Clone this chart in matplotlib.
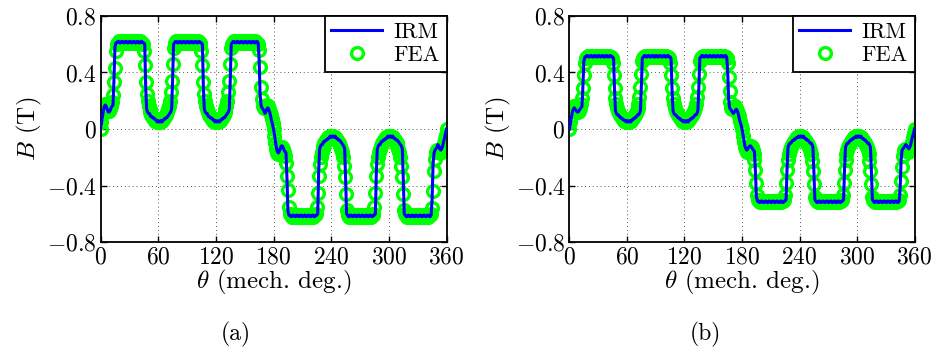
"""
Flux density waveform, IRM vs FEA, two cases (a) and (b).
"""
import numpy as np
import matplotlib
matplotlib.use("Agg")
import matplotlib.pyplot as plt

plt.rcParams['font.family'] = 'serif'
plt.rcParams['font.serif'] = ['cmr10', 'DejaVu Serif']
plt.rcParams['mathtext.fontset'] = 'cm'
plt.rcParams['axes.formatter.use_mathtext'] = True

# mechanical angle, one sample per degree
theta = list(range(0, 361))

# ---- case (a) ----
irm_a = [
    0.00, 0.04, 0.09, 0.13, 0.16, 0.17, 0.16, 0.14, 0.12, 0.12, 0.13, 0.15, 0.16, 0.17, 0.35, 0.58, 0.61,
    0.61, 0.62, 0.62, 0.61, 0.61, 0.62, 0.62, 0.61, 0.61, 0.62, 0.62, 0.61, 0.61, 0.62,
    0.62, 0.61, 0.61, 0.62, 0.62, 0.61, 0.61, 0.62, 0.62, 0.61, 0.61, 0.62, 0.62, 0.61,
    0.61, 0.60, 0.30, 0.14, 0.12, 0.11, 0.11, 0.09, 0.09, 0.08, 0.08, 0.07, 0.07, 0.06, 0.05, 0.06,
    0.05, 0.05, 0.06, 0.05, 0.06, 0.07, 0.07, 0.08, 0.08, 0.09, 0.10, 0.11, 0.12, 0.14, 0.35, 0.60,
    0.61, 0.62, 0.62, 0.61, 0.61, 0.62, 0.62, 0.61, 0.61, 0.62, 0.62, 0.61, 0.61, 0.62,
    0.62, 0.61, 0.61, 0.62, 0.62, 0.61, 0.61, 0.62, 0.62, 0.61, 0.61, 0.62, 0.62, 0.61,
    0.61, 0.60, 0.30, 0.14, 0.12, 0.11, 0.11, 0.09, 0.09, 0.08, 0.08, 0.07, 0.07, 0.06, 0.05, 0.06,
    0.05, 0.05, 0.06, 0.05, 0.06, 0.07, 0.07, 0.08, 0.08, 0.09, 0.10, 0.11, 0.12, 0.14, 0.35, 0.60,
    0.61, 0.62, 0.62, 0.61, 0.61, 0.62, 0.62, 0.61, 0.61, 0.62, 0.62, 0.61, 0.61, 0.62,
    0.62, 0.61, 0.61, 0.62, 0.62, 0.61, 0.61, 0.62, 0.62, 0.61, 0.61, 0.62, 0.62, 0.61,
    0.50, 0.25, 0.17, 0.15, 0.14, 0.13, 0.11, 0.12, 0.14, 0.15, 0.14, 0.12, 0.09, 0.06, 0.03, 0.00,
    -0.04, -0.09, -0.13, -0.16, -0.17, -0.16, -0.14, -0.12, -0.12, -0.13, -0.15, -0.16, -0.17, -0.35, -0.58, -0.61,
    -0.61, -0.62, -0.62, -0.61, -0.61, -0.62, -0.62, -0.61, -0.61, -0.62, -0.62, -0.61, -0.61, -0.62,
    -0.62, -0.61, -0.61, -0.62, -0.62, -0.61, -0.61, -0.62, -0.62, -0.61, -0.61, -0.62, -0.62, -0.61,
    -0.61, -0.60, -0.30, -0.14, -0.12, -0.11, -0.11, -0.09, -0.09, -0.08, -0.08, -0.07, -0.07, -0.06, -0.05, -0.06,
    -0.05, -0.05, -0.06, -0.05, -0.06, -0.07, -0.07, -0.08, -0.08, -0.09, -0.10, -0.11, -0.12, -0.14, -0.35, -0.60,
    -0.61, -0.62, -0.62, -0.61, -0.61, -0.62, -0.62, -0.61, -0.61, -0.62, -0.62, -0.61, -0.61, -0.62,
    -0.62, -0.61, -0.61, -0.62, -0.62, -0.61, -0.61, -0.62, -0.62, -0.61, -0.61, -0.62, -0.62, -0.61,
    -0.61, -0.60, -0.30, -0.14, -0.12, -0.11, -0.11, -0.09, -0.09, -0.08, -0.08, -0.07, -0.07, -0.06, -0.05, -0.06,
    -0.05, -0.05, -0.06, -0.05, -0.06, -0.07, -0.07, -0.08, -0.08, -0.09, -0.10, -0.11, -0.12, -0.14, -0.35, -0.60,
    -0.61, -0.62, -0.62, -0.61, -0.61, -0.62, -0.62, -0.61, -0.61, -0.62, -0.62, -0.61, -0.61, -0.62,
    -0.62, -0.61, -0.61, -0.62, -0.62, -0.61, -0.61, -0.62, -0.62, -0.61, -0.61, -0.62, -0.62, -0.61,
    -0.50, -0.25, -0.17, -0.15, -0.14, -0.13, -0.11, -0.12, -0.14, -0.15, -0.14, -0.12, -0.09, -0.06, -0.03, 0.00,
]

fea_a = [
    0.00, 0.05, 0.10, 0.14, 0.17, 0.18, 0.17, 0.15, 0.13, 0.13, 0.14, 0.16, 0.19, 0.24, 0.33, 0.43, 0.55,
    0.60, 0.61, 0.62, 0.61, 0.62, 0.61, 0.62, 0.62, 0.61, 0.62, 0.61, 0.62, 0.62, 0.61,
    0.62, 0.61, 0.62, 0.62, 0.61, 0.62, 0.61, 0.62, 0.62, 0.61, 0.62, 0.61, 0.61, 0.60,
    0.55, 0.45, 0.33, 0.25, 0.20, 0.16, 0.14, 0.12, 0.10, 0.09, 0.08, 0.07, 0.06, 0.06, 0.05, 0.05,
    0.05, 0.05, 0.06, 0.06, 0.07, 0.08, 0.09, 0.10, 0.12, 0.14, 0.16, 0.20, 0.26, 0.34, 0.46, 0.57,
    0.60, 0.61, 0.62, 0.61, 0.62, 0.61, 0.62, 0.62, 0.61, 0.62, 0.61, 0.62, 0.62, 0.61,
    0.62, 0.61, 0.62, 0.62, 0.61, 0.62, 0.61, 0.62, 0.62, 0.61, 0.62, 0.61, 0.61, 0.60,
    0.55, 0.45, 0.33, 0.25, 0.20, 0.16, 0.14, 0.12, 0.10, 0.09, 0.08, 0.07, 0.06, 0.06, 0.05, 0.05,
    0.05, 0.05, 0.06, 0.06, 0.07, 0.08, 0.09, 0.10, 0.12, 0.14, 0.16, 0.20, 0.26, 0.34, 0.46, 0.57,
    0.60, 0.61, 0.62, 0.61, 0.62, 0.61, 0.62, 0.62, 0.61, 0.62, 0.61, 0.62, 0.62, 0.61,
    0.62, 0.61, 0.62, 0.62, 0.61, 0.62, 0.61, 0.62, 0.62, 0.61, 0.62, 0.61, 0.61, 0.60,
    0.56, 0.44, 0.30, 0.21, 0.16, 0.15, 0.15, 0.16, 0.17, 0.16, 0.14, 0.12, 0.10, 0.07, 0.04, 0.00,
    -0.05, -0.10, -0.14, -0.17, -0.18, -0.17, -0.15, -0.13, -0.13, -0.14, -0.16, -0.19, -0.24, -0.33, -0.43, -0.55,
    -0.60, -0.61, -0.62, -0.61, -0.62, -0.61, -0.62, -0.62, -0.61, -0.62, -0.61, -0.62, -0.62, -0.61,
    -0.62, -0.61, -0.62, -0.62, -0.61, -0.62, -0.61, -0.62, -0.62, -0.61, -0.62, -0.61, -0.61, -0.60,
    -0.55, -0.45, -0.33, -0.25, -0.20, -0.16, -0.14, -0.12, -0.10, -0.09, -0.08, -0.07, -0.06, -0.06, -0.05, -0.05,
    -0.05, -0.05, -0.06, -0.06, -0.07, -0.08, -0.09, -0.10, -0.12, -0.14, -0.16, -0.20, -0.26, -0.34, -0.46, -0.57,
    -0.60, -0.61, -0.62, -0.61, -0.62, -0.61, -0.62, -0.62, -0.61, -0.62, -0.61, -0.62, -0.62, -0.61,
    -0.62, -0.61, -0.62, -0.62, -0.61, -0.62, -0.61, -0.62, -0.62, -0.61, -0.62, -0.61, -0.61, -0.60,
    -0.55, -0.45, -0.33, -0.25, -0.20, -0.16, -0.14, -0.12, -0.10, -0.09, -0.08, -0.07, -0.06, -0.06, -0.05, -0.05,
    -0.05, -0.05, -0.06, -0.06, -0.07, -0.08, -0.09, -0.10, -0.12, -0.14, -0.16, -0.20, -0.26, -0.34, -0.46, -0.57,
    -0.60, -0.61, -0.62, -0.61, -0.62, -0.61, -0.62, -0.62, -0.61, -0.62, -0.61, -0.62, -0.62, -0.61,
    -0.62, -0.61, -0.62, -0.62, -0.61, -0.62, -0.61, -0.62, -0.62, -0.61, -0.62, -0.61, -0.61, -0.60,
    -0.56, -0.44, -0.30, -0.21, -0.16, -0.15, -0.15, -0.16, -0.17, -0.16, -0.14, -0.12, -0.10, -0.07, -0.04, 0.00,
]

# ---- case (b) ----
irm_b = [
    0.00, 0.04, 0.08, 0.12, 0.14, 0.15, 0.14, 0.13, 0.12, 0.12, 0.13, 0.14, 0.15, 0.16, 0.30, 0.48, 0.51,
    0.51, 0.52, 0.52, 0.51, 0.51, 0.52, 0.52, 0.51, 0.51, 0.52, 0.52, 0.51, 0.51, 0.52,
    0.52, 0.51, 0.51, 0.52, 0.52, 0.51, 0.51, 0.52, 0.52, 0.51, 0.51, 0.52, 0.52, 0.51,
    0.51, 0.50, 0.28, 0.13, 0.11, 0.10, 0.10, 0.09, 0.08, 0.08, 0.07, 0.07, 0.06, 0.06, 0.05, 0.06,
    0.05, 0.05, 0.06, 0.05, 0.06, 0.07, 0.07, 0.08, 0.08, 0.09, 0.10, 0.10, 0.11, 0.13, 0.30, 0.50,
    0.51, 0.52, 0.52, 0.51, 0.51, 0.52, 0.52, 0.51, 0.51, 0.52, 0.52, 0.51, 0.51, 0.52,
    0.52, 0.51, 0.51, 0.52, 0.52, 0.51, 0.51, 0.52, 0.52, 0.51, 0.51, 0.52, 0.52, 0.51,
    0.51, 0.50, 0.28, 0.13, 0.11, 0.10, 0.10, 0.09, 0.08, 0.08, 0.07, 0.07, 0.06, 0.06, 0.05, 0.06,
    0.05, 0.05, 0.06, 0.05, 0.06, 0.07, 0.07, 0.08, 0.08, 0.09, 0.10, 0.10, 0.11, 0.13, 0.30, 0.50,
    0.51, 0.52, 0.52, 0.51, 0.51, 0.52, 0.52, 0.51, 0.51, 0.52, 0.52, 0.51, 0.51, 0.52,
    0.52, 0.51, 0.51, 0.52, 0.52, 0.51, 0.51, 0.52, 0.52, 0.51, 0.51, 0.52, 0.52, 0.51,
    0.42, 0.22, 0.15, 0.14, 0.13, 0.12, 0.11, 0.12, 0.13, 0.14, 0.13, 0.11, 0.08, 0.05, 0.03, 0.00,
    -0.04, -0.08, -0.12, -0.14, -0.15, -0.14, -0.13, -0.12, -0.12, -0.13, -0.14, -0.15, -0.16, -0.30, -0.48, -0.51,
    -0.51, -0.52, -0.52, -0.51, -0.51, -0.52, -0.52, -0.51, -0.51, -0.52, -0.52, -0.51, -0.51, -0.52,
    -0.52, -0.51, -0.51, -0.52, -0.52, -0.51, -0.51, -0.52, -0.52, -0.51, -0.51, -0.52, -0.52, -0.51,
    -0.51, -0.50, -0.28, -0.13, -0.11, -0.10, -0.10, -0.09, -0.08, -0.08, -0.07, -0.07, -0.06, -0.06, -0.05, -0.06,
    -0.05, -0.05, -0.06, -0.05, -0.06, -0.07, -0.07, -0.08, -0.08, -0.09, -0.10, -0.10, -0.11, -0.13, -0.30, -0.50,
    -0.51, -0.52, -0.52, -0.51, -0.51, -0.52, -0.52, -0.51, -0.51, -0.52, -0.52, -0.51, -0.51, -0.52,
    -0.52, -0.51, -0.51, -0.52, -0.52, -0.51, -0.51, -0.52, -0.52, -0.51, -0.51, -0.52, -0.52, -0.51,
    -0.51, -0.50, -0.28, -0.13, -0.11, -0.10, -0.10, -0.09, -0.08, -0.08, -0.07, -0.07, -0.06, -0.06, -0.05, -0.06,
    -0.05, -0.05, -0.06, -0.05, -0.06, -0.07, -0.07, -0.08, -0.08, -0.09, -0.10, -0.10, -0.11, -0.13, -0.30, -0.50,
    -0.51, -0.52, -0.52, -0.51, -0.51, -0.52, -0.52, -0.51, -0.51, -0.52, -0.52, -0.51, -0.51, -0.52,
    -0.52, -0.51, -0.51, -0.52, -0.52, -0.51, -0.51, -0.52, -0.52, -0.51, -0.51, -0.52, -0.52, -0.51,
    -0.42, -0.22, -0.15, -0.14, -0.13, -0.12, -0.11, -0.12, -0.13, -0.14, -0.13, -0.11, -0.08, -0.05, -0.03, 0.00,
]

fea_b = [
    0.00, 0.05, 0.09, 0.13, 0.15, 0.16, 0.15, 0.14, 0.13, 0.12, 0.13, 0.15, 0.18, 0.22, 0.29, 0.38, 0.47,
    0.50, 0.51, 0.52, 0.51, 0.52, 0.51, 0.52, 0.52, 0.51, 0.52, 0.51, 0.52, 0.52, 0.51,
    0.52, 0.51, 0.52, 0.52, 0.51, 0.52, 0.51, 0.52, 0.52, 0.51, 0.52, 0.51, 0.51, 0.50,
    0.47, 0.38, 0.29, 0.22, 0.18, 0.15, 0.13, 0.11, 0.10, 0.09, 0.08, 0.07, 0.06, 0.06, 0.05, 0.05,
    0.05, 0.05, 0.06, 0.06, 0.07, 0.08, 0.09, 0.10, 0.11, 0.13, 0.15, 0.18, 0.23, 0.30, 0.39, 0.48,
    0.50, 0.51, 0.52, 0.51, 0.52, 0.51, 0.52, 0.52, 0.51, 0.52, 0.51, 0.52, 0.52, 0.51,
    0.52, 0.51, 0.52, 0.52, 0.51, 0.52, 0.51, 0.52, 0.52, 0.51, 0.52, 0.51, 0.51, 0.50,
    0.47, 0.38, 0.29, 0.22, 0.18, 0.15, 0.13, 0.11, 0.10, 0.09, 0.08, 0.07, 0.06, 0.06, 0.05, 0.05,
    0.05, 0.05, 0.06, 0.06, 0.07, 0.08, 0.09, 0.10, 0.11, 0.13, 0.15, 0.18, 0.23, 0.30, 0.39, 0.48,
    0.50, 0.51, 0.52, 0.51, 0.52, 0.51, 0.52, 0.52, 0.51, 0.52, 0.51, 0.52, 0.52, 0.51,
    0.52, 0.51, 0.52, 0.52, 0.51, 0.52, 0.51, 0.52, 0.52, 0.51, 0.52, 0.51, 0.51, 0.50,
    0.47, 0.37, 0.27, 0.19, 0.15, 0.14, 0.14, 0.15, 0.16, 0.15, 0.13, 0.11, 0.09, 0.06, 0.03, 0.00,
    -0.05, -0.09, -0.13, -0.15, -0.16, -0.15, -0.14, -0.13, -0.12, -0.13, -0.15, -0.18, -0.22, -0.29, -0.38, -0.47,
    -0.50, -0.51, -0.52, -0.51, -0.52, -0.51, -0.52, -0.52, -0.51, -0.52, -0.51, -0.52, -0.52, -0.51,
    -0.52, -0.51, -0.52, -0.52, -0.51, -0.52, -0.51, -0.52, -0.52, -0.51, -0.52, -0.51, -0.51, -0.50,
    -0.47, -0.38, -0.29, -0.22, -0.18, -0.15, -0.13, -0.11, -0.10, -0.09, -0.08, -0.07, -0.06, -0.06, -0.05, -0.05,
    -0.05, -0.05, -0.06, -0.06, -0.07, -0.08, -0.09, -0.10, -0.11, -0.13, -0.15, -0.18, -0.23, -0.30, -0.39, -0.48,
    -0.50, -0.51, -0.52, -0.51, -0.52, -0.51, -0.52, -0.52, -0.51, -0.52, -0.51, -0.52, -0.52, -0.51,
    -0.52, -0.51, -0.52, -0.52, -0.51, -0.52, -0.51, -0.52, -0.52, -0.51, -0.52, -0.51, -0.51, -0.50,
    -0.47, -0.38, -0.29, -0.22, -0.18, -0.15, -0.13, -0.11, -0.10, -0.09, -0.08, -0.07, -0.06, -0.06, -0.05, -0.05,
    -0.05, -0.05, -0.06, -0.06, -0.07, -0.08, -0.09, -0.10, -0.11, -0.13, -0.15, -0.18, -0.23, -0.30, -0.39, -0.48,
    -0.50, -0.51, -0.52, -0.51, -0.52, -0.51, -0.52, -0.52, -0.51, -0.52, -0.51, -0.52, -0.52, -0.51,
    -0.52, -0.51, -0.52, -0.52, -0.51, -0.52, -0.51, -0.52, -0.52, -0.51, -0.52, -0.51, -0.51, -0.50,
    -0.47, -0.37, -0.27, -0.19, -0.15, -0.14, -0.14, -0.15, -0.16, -0.15, -0.13, -0.11, -0.09, -0.06, -0.03, 0.00,
]

x_ticks = [0, 60, 120, 180, 240, 300, 360]
y_ticks = [-0.8, -0.4, 0, 0.4, 0.8]
y_tick_labels = ['$-0.8$', '$-0.4$', '$0$', '$0.4$', '$0.8$']
captions = ['(a)', '(b)']


def draw(ax, irm, fea):
    ax.plot(theta, fea, 'o', mfc='none', mec='#00ff00', ms=8.5, mew=2.4,
            label='FEA', zorder=2)
    ax.plot(theta, irm, '-', color='#0000ff', lw=2.2, label='IRM', zorder=3)
    ax.set_xlim(0, 360)
    ax.set_ylim(-0.8, 0.8)
    ax.set_xticks(x_ticks)
    ax.set_xticklabels(['$%d$' % t for t in x_ticks])
    ax.set_yticks(y_ticks)
    ax.set_yticklabels(y_tick_labels)
    ax.tick_params(direction='in', top=True, right=True, labelsize=17, length=4, width=1, pad=3)
    ax.grid(True, linestyle=(0, (1, 3)), color='#555555', linewidth=0.7)
    for s in ax.spines.values():
        s.set_linewidth(1.3)
    ax.set_xlabel(r'$\theta$ (mech. deg.)', fontsize=18, labelpad=0)
    ax.set_ylabel(r'$B$ (T)', fontsize=18, labelpad=2)
    h, l = ax.get_legend_handles_labels()
    leg = ax.legend(h[::-1], l[::-1], loc='upper right', fontsize=16, fancybox=False,
                    edgecolor='black', framealpha=1, borderaxespad=0, handlelength=2.3,
                    handletextpad=0.5, borderpad=0.3, labelspacing=0.15)
    leg.get_frame().set_linewidth(1.3)


fig = plt.figure(figsize=(9.43, 3.53), dpi=100)
ax_a = fig.add_axes([0.1066, 0.3144, 0.3669, 0.6403])
ax_b = fig.add_axes([0.6039, 0.3144, 0.3659, 0.6403])
draw(ax_a, irm_a, fea_a)
draw(ax_b, irm_b, fea_b)
fig.text(0.2502, 0.035, captions[0], ha='center', fontsize=17)
fig.text(0.7480, 0.035, captions[1], ha='center', fontsize=17)

fig.savefig('out.png', dpi=100)
